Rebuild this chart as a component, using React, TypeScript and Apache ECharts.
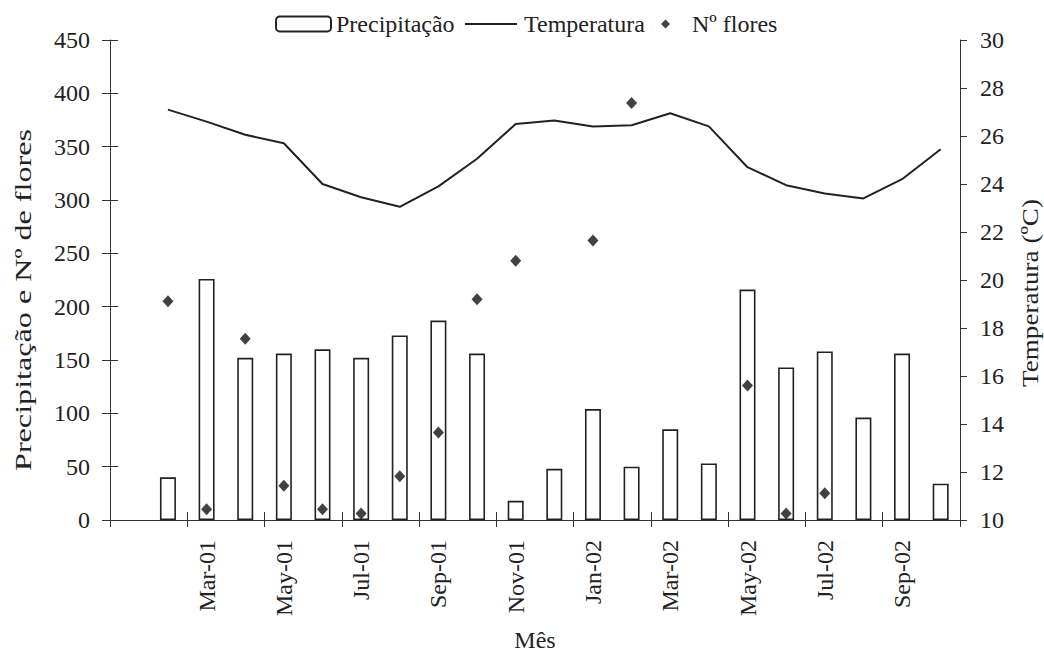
import React, { useEffect, useRef } from 'react';
import * as echarts from 'echarts';

const FONT = 'Liberation Serif';

const months = [
  'Jan-01', 'Feb-01', 'Mar-01', 'Apr-01', 'May-01', 'Jun-01', 'Jul-01', 'Aug-01', 'Sep-01', 'Oct-01', 'Nov-01',
  'Dec-01', 'Jan-02', 'Feb-02', 'Mar-02', 'Apr-02', 'May-02', 'Jun-02', 'Jul-02', 'Aug-02', 'Sep-02', 'Oct-02',
];

const precipitacao = ['-', 40, 226, 152, 156, 160, 152, 173, 187, 156, 18, 48, 104, 50, 85, 53, 216, 143, 158, 96, 156, 34];

const temperatura = ['-', 27.1, 26.6, 26.05, 25.7, 24.0, 23.45, 23.05, 23.9, 25.05, 26.5, 26.65, 26.4, 26.45, 26.95, 26.4, 24.7, 23.95, 23.6, 23.4, 24.2, 25.45];

const flores = ['-', 205, 10, 170, 32, 10, 6, 41, 82, 207, 243, '-', 262, 391, '-', '-', 126, 6, 25, '-', '-', '-'];

const leftTicks = { min: 0, max: 450, interval: 50 };
const rightTicks = { min: 10, max: 30, interval: 2 };

const leftTitle = 'Precipitação e Nº de flores';
const rightTitle = 'Temperatura (ºC)';
const xTitle = 'Mês';

export default function App() {
  const ref = useRef<HTMLDivElement>(null);
  useEffect(() => {
    const chart = echarts.init(ref.current!, null, { renderer: 'svg' });
    const tickInterval = (i: number) => i % 2 === 0;
    const labelInterval = (i: number) => i % 2 === 0 && i > 0;
    const ink = '#222';
    const axisColor = '#333';
    const txt = { fontFamily: FONT, fontSize: 24, color: ink };
    const titleStyle = (text: string) => ({
      text, fontFamily: FONT, fontSize: 24, fill: ink,
      align: 'center', verticalAlign: 'middle', textAlign: 'center', textVerticalAlign: 'middle',
    });
    chart.setOption({
      animation: false,
      textStyle: { fontFamily: FONT },
      legend: [
        {
          data: ['Precipitação'], left: 275, top: 12, padding: 0, itemWidth: 55, itemHeight: 15,
          textStyle: txt,
        },
        {
          data: [{ name: 'Temperatura', icon: 'rect' }], left: 465, top: 12, padding: 0, itemWidth: 52, itemHeight: 2,
          textStyle: { ...txt, padding: [0, 0, 0, 2] },
        },
        {
          data: ['Nº flores'], left: 661, top: 12, padding: 0, itemWidth: 9, itemHeight: 9,
          textStyle: { ...txt, padding: [0, 0, 0, 17] },
        },
      ],
      graphic: [
        { type: 'text', x: 23, y: 300, rotation: Math.PI / 2, scaleX: 1.34, style: titleStyle(leftTitle) },
        { type: 'text', x: 1030, y: 293, rotation: Math.PI / 2, scaleX: 1.13, style: titleStyle(rightTitle) },
      ],
      grid: { left: 110, right: 84, top: 40, bottom: 141, outerBoundsMode: 'none', containLabel: false },
      xAxis: [
        {
          type: 'category', data: months, boundaryGap: true,
          axisLine: { show: true, lineStyle: { color: axisColor, width: 1 } },
          axisTick: { show: true, interval: tickInterval, length: 7, lineStyle: { color: axisColor } },
          axisLabel: { interval: labelInterval, rotate: 90, margin: 20, ...txt },
          name: xTitle, nameLocation: 'middle', nameGap: 108, nameTextStyle: txt,
        },
        {
          type: 'category', data: months, boundaryGap: true, position: 'bottom',
          axisLine: { show: false },
          axisTick: { show: true, inside: true, interval: tickInterval, length: 8, lineStyle: { color: axisColor } },
          axisLabel: { show: false },
        },
      ],
      yAxis: [
        {
          type: 'value', ...leftTicks, position: 'left',
          axisLine: { show: true, lineStyle: { color: axisColor, width: 1 } },
          axisTick: { show: true, length: 8, lineStyle: { color: axisColor } },
          axisLabel: { margin: 20, ...txt },
          splitLine: { show: false },
        },
        {
          type: 'value', ...rightTicks, position: 'right',
          axisLine: { show: true, lineStyle: { color: axisColor, width: 1 } },
          axisTick: { show: true, length: 7, lineStyle: { color: axisColor } },
          axisLabel: { margin: 20, ...txt },
          splitLine: { show: false },
        },
        {
          type: 'value', ...leftTicks, position: 'left',
          axisLine: { show: false },
          axisTick: { show: true, inside: true, length: 8, lineStyle: { color: axisColor } },
          axisLabel: { show: false },
          splitLine: { show: false },
        },
      ],
      series: [
        {
          name: 'Precipitação', type: 'bar', data: precipitacao, xAxisIndex: 0, yAxisIndex: 0,
          barWidth: 16,
          itemStyle: { color: '#fff', borderColor: ink, borderWidth: 1.6 },
        },
        {
          name: 'Temperatura', type: 'line', data: temperatura, xAxisIndex: 0, yAxisIndex: 1,
          symbol: 'none', lineStyle: { color: ink, width: 2 }, itemStyle: { color: ink },
        },
        {
          name: 'Nº flores', type: 'scatter', data: flores, xAxisIndex: 0, yAxisIndex: 0,
          symbol: 'diamond', symbolSize: [11, 12], itemStyle: { color: '#111' },
        },
      ],
    });
    return () => chart.dispose();
  }, []);
  return (
    <div
      ref={ref}
      style={{ position: 'fixed', left: 0, top: 0, width: 1044, height: 661, background: '#fff' }}
    />
  );
}
